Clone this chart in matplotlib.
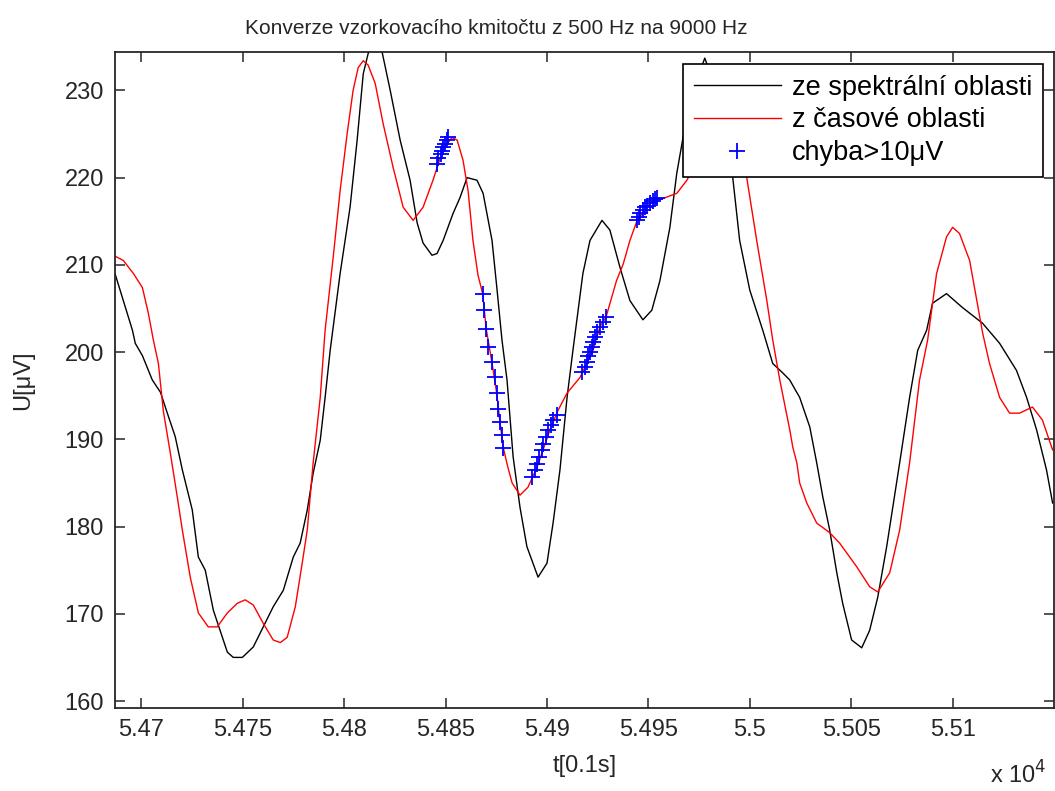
import matplotlib
matplotlib.use('Agg')
import matplotlib.pyplot as plt
from matplotlib.ticker import FuncFormatter, MultipleLocator

plt.rcParams['font.family'] = ['Liberation Sans', 'DejaVu Sans']

# ze spektralni oblasti (black)
t_spec = [54687.0, 54695.6, 54697.0, 54700.5, 54705.4, 54709.4, 54712.8, 54716.7, 54720.2, 54725.1,
          54728.1, 54731.5, 54735.5, 54742.4, 54745.3, 54749.8, 54755.2, 54760.1, 54765.0, 54770.0,
          54774.9, 54778.3, 54781.8, 54784.7, 54788.2, 54790.6, 54793.1, 54798.0, 54802.9, 54806.4,
          54809.4, 54811.8, 54815.3, 54818.7, 54822.7, 54827.6, 54832.5, 54836.0, 54838.9, 54843.3,
          54845.8, 54848.8, 54853.7, 54857.1, 54860.6, 54865.5, 54868.5, 54872.9, 54875.4, 54877.8,
          54880.3, 54883.3, 54886.7, 54890.1, 54895.6, 54900.0, 54903.0, 54906.4, 54909.9, 54912.8,
          54917.7, 54921.2, 54927.1, 54931.0, 54936.0, 54940.9, 54947.3, 54951.7, 54955.7, 54960.6,
          54964.0, 54970.4, 54977.8, 54985.2, 54991.6, 54995.0, 55000.0, 55006.4, 55011.3, 55016.3,
          55019.7, 55024.6, 55029.6, 55033.0, 55036.0, 55039.4, 55042.9, 55045.8, 55050.2, 55055.2,
          55059.1, 55063.1, 55067.5, 55073.9, 55078.8, 55082.8, 55087.2, 55090.1, 55097.0, 55104.9,
          55114.8, 55123.2, 55131.5, 55136.5, 55141.4, 55146.3, 55149.3]
u_spec = [209.0, 202.5, 201.0, 199.6, 196.8, 195.4, 193.0, 190.3, 186.5, 181.9,
          176.5, 175.0, 170.4, 165.6, 165.0, 165.0, 166.2, 168.5, 170.8, 172.7,
          176.5, 178.1, 181.9, 186.1, 189.9, 194.8, 200.2, 209.0, 216.6, 224.3,
          231.9, 234.2, 236.0, 234.4, 230.0, 224.3, 219.7, 214.8, 212.5, 211.1,
          211.3, 212.8, 215.9, 217.7, 220.0, 219.7, 218.2, 212.8, 207.1, 201.4,
          196.8, 188.0, 182.2, 177.7, 174.2, 175.8, 180.4, 186.5, 194.8, 200.2,
          209.0, 212.8, 215.1, 214.0, 209.7, 205.9, 203.7, 204.8, 208.2, 214.3,
          220.5, 229.0, 233.7, 229.0, 220.0, 212.8, 207.1, 202.5, 198.7, 197.6,
          196.8, 194.8, 191.4, 187.3, 183.4, 179.6, 174.7, 171.2, 167.0, 166.1,
          168.1, 171.9, 177.7, 187.3, 194.8, 200.2, 202.5, 205.6, 206.7, 205.1,
          203.3, 201.0, 197.9, 194.8, 191.1, 186.5, 182.7]

# z casove oblasti (red)
t_cas = [54687.0, 54691.1, 54696.1, 54700.5, 54703.4, 54705.9, 54708.4, 54710.8, 54714.3, 54717.7,
         54720.2, 54724.1, 54728.1, 54733.0, 54737.4, 54742.4, 54747.3, 54751.2, 54755.2, 54760.1,
         54765.0, 54768.5, 54771.9, 54775.9, 54779.3, 54781.8, 54784.7, 54788.2, 54790.6, 54794.6,
         54798.0, 54801.5, 54804.4, 54806.9, 54809.4, 54811.8, 54815.3, 54819.2, 54824.1, 54829.1,
         54834.0, 54838.9, 54843.8, 54848.8, 54853.2, 54855.7, 54858.6, 54861.1, 54863.5, 54866.0,
         54868.3, 54870.0, 54872.8, 54875.2, 54876.8, 54878.5, 54880.5, 54882.8, 54886.7, 54890.6,
         54895.1, 54901.5, 54905.4, 54909.9, 54916.3, 54922.7, 54926.1, 54929.1, 54934.3, 54937.6,
         54940.9, 54944.3, 54950.7, 54957.1, 54964.0, 54969.0, 54975.4, 54984.2, 54992.6, 54998.5,
         55003.4, 55008.4, 55011.3, 55014.8, 55019.7, 55021.2, 55023.2, 55024.6, 55028.1, 55033.0,
         55039.4, 55044.3, 55052.7, 55059.1, 55063.1, 55069.0, 55073.9, 55078.8, 55083.7, 55087.7,
         55092.1, 55097.0, 55100.0, 55103.4, 55108.4, 55114.8, 55118.2, 55123.2, 55128.1, 55133.0,
         55139.4, 55144.3, 55149.3]
u_cas = [211.0, 210.5, 209.0, 207.4, 204.5, 201.4, 198.7, 193.3, 188.4, 183.4,
         179.6, 174.2, 170.1, 168.5, 168.5, 170.1, 171.2, 171.6, 171.0, 168.9,
         167.0, 166.7, 167.3, 170.8, 175.8, 179.6, 187.3, 194.8, 202.5, 210.9,
         218.5, 225.1, 230.0, 232.6, 233.4, 232.9, 230.8, 226.2, 221.2, 216.6,
         215.1, 216.6, 219.7, 223.3, 224.6, 224.3, 222.0, 218.5, 212.8, 208.8,
         206.7, 202.7, 198.9, 195.3, 192.0, 189.0, 187.0, 185.0, 183.6, 184.5,
         186.8, 191.1, 193.3, 195.3, 197.1, 200.2, 202.9, 204.0, 208.2, 210.1,
         212.8, 215.0, 217.1, 217.6, 218.2, 219.7, 222.5, 225.0, 223.0, 220.0,
         212.8, 205.9, 201.4, 196.8, 191.1, 189.1, 187.3, 185.0, 182.7, 180.4,
         179.3, 178.1, 175.4, 173.1, 172.5, 174.7, 179.6, 187.3, 196.8, 201.4,
         209.0, 213.2, 214.3, 213.6, 210.5, 202.2, 198.7, 194.8, 193.0, 193.0,
         193.7, 192.2, 188.8]

# chyba > 10 uV (blue +)
t_err = [54845.7, 54846.5, 54847.6, 54848.1, 54848.9, 54849.8, 54850.6, 54851.4,
         54868.3, 54869.0, 54870.0, 54871.1, 54872.8, 54874.4, 54875.2, 54876.0, 54876.8, 54877.7, 54878.5,
         54892.5, 54894.1, 54895.2, 54896.2, 54897.4, 54898.2, 54899.5, 54900.6, 54901.8, 54903.1, 54904.8,
         54917.1, 54918.7, 54919.6, 54920.3, 54921.2, 54922.0, 54922.8, 54923.6, 54924.8, 54926.1, 54927.4, 54929.1,
         54944.5, 54945.4, 54946.1, 54947.1, 54948.3, 54949.4, 54950.7, 54952.1, 54953.2, 54954.3]
u_err = [221.6, 222.2, 222.7, 223.1, 223.5, 223.9, 224.3, 224.6,
         206.7, 204.8, 202.7, 200.6, 198.9, 197.2, 195.3, 193.5, 192.0, 190.5, 189.0,
         185.7, 186.5, 187.2, 188.0, 188.8, 189.5, 190.3, 191.1, 191.6, 192.2, 192.8,
         197.7, 198.3, 198.9, 199.5, 200.0, 200.6, 201.2, 201.7, 202.3, 202.9, 203.5, 204.0,
         215.1, 215.5, 215.9, 216.3, 216.6, 216.8, 217.1, 217.3, 217.5, 217.7]

x_ticks = [54700, 54750, 54800, 54850, 54900, 54950, 55000, 55050, 55100]

fig = plt.figure(figsize=(10.55, 7.91), dpi=100)
ax = fig.add_axes([115 / 1055, 1 - 708 / 791, 939 / 1055, 656 / 791])

ax.plot(t_spec, u_spec, color='black', lw=1.0, label='ze spektrální oblasti')
ax.plot(t_cas, u_cas, color='red', lw=1.0, label='z časové oblasti')
ax.plot(t_err, u_err, '+', color='blue', ms=11, mew=1.3, label='chyba>10\u03bcV')

ax.set_xlim(54687, 55150)
ax.set_ylim(159.2, 234.4)
ax.set_xticks(x_ticks)
ax.xaxis.set_major_formatter(FuncFormatter(lambda v, p: '%g' % (v / 1e4)))
ax.yaxis.set_major_locator(MultipleLocator(10))
ax.tick_params(direction='in', top=True, right=True, length=7, width=1.1,
               labelsize=17, pad=8, colors='#262626', labelcolor='#262626')
for s in ax.spines.values():
    s.set_linewidth(1.3)
    s.set_color('#262626')

leg = ax.legend(loc='upper right', bbox_to_anchor=(0.988, 0.982), borderaxespad=0,
                fontsize=19.5, fancybox=False, framealpha=1, edgecolor='black',
                handlelength=3.2, handletextpad=0.4, labelspacing=0.25, borderpad=0.4)
leg.get_frame().set_linewidth(1.2)

ax.text(0.406, 1.022, 'Konverze vzorkovacího kmitočtu z 500 Hz na 9000 Hz',
        transform=ax.transAxes, ha='center', va='bottom', fontsize=15, color='#262626')
ax.set_xlabel('t[0.1s]', fontsize=17, color='#262626', labelpad=10)
ax.set_ylabel('U[\u03bcV]', fontsize=17, color='#262626', labelpad=22)
fig.text(0.938, 0.003, 'x 10$^{4}$', fontsize=17, color='#262626', ha='left', va='bottom')

plt.savefig('out.png', dpi=100)
